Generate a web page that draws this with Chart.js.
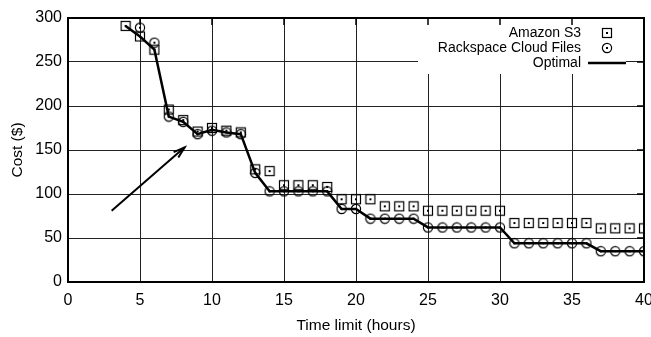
<!DOCTYPE html>
<html>
<head>
<meta charset="utf-8">
<script src="https://cdn.jsdelivr.net/npm/chart.js@4/dist/chart.umd.min.js"></script>
<style>
html,body{margin:0;padding:0;background:#fff;}
#wrap{width:651px;height:337px;position:relative;}
</style>
</head>
<body>
<div id="wrap"><canvas id="c" width="651" height="337"></canvas></div>
<script>
// ---- data ----
const amazonHours = [4,5,6,7,8,9,10,11,12,13,14,15,16,17,18,19,20,21,22,23,24,25,26,27,28,29,30,31,32,33,34,35,36,37,38,39,40];
const amazonCost  = [291,279,264,196,184,171,175,172,170,128,126,110,110,110,108,94,94,94,86,86,86,81,81,81,81,81,81,67,67,67,67,67,67,61,61,61,61];
const rackHours   = [5,6,7,8,9,10,11,12,13,14,15,16,17,18,19,20,21,22,23,24,25,26,27,28,29,30,31,32,33,34,35,36,37,38,39,40];
const rackCost    = [289,272,188,182,168,172,170,168,124,103,103,103,103,103,83,83,72,72,72,72,62,62,62,62,62,62,44,44,44,44,44,44,35,35,35,35];
const optHours    = [4,5,6,7,8,9,10,11,12,13,14,15,16,17,18,19,20,21,22,23,24,25,26,27,28,29,30,31,32,33,34,35,36,37,38,39,40];
const optCost     = [291,279,264,188,182,168,173,170,168,124,103,103,103,103,103,83,83,72,72,72,72,62,62,62,62,62,62,44,44,44,44,44,44,35,35,35,35];
const xTicks = [0,5,10,15,20,25,30,35,40];
const yTicks = [0,50,100,150,200,250,300];
const seriesLabels = ['Amazon S3','Rackspace Cloud Files','Optimal'];
const arrowFrom = {x:3.03, y:81};
const arrowTo   = {x:8.1, y:153};

// ---- marker images ----
function squareMarker(){
  const c=document.createElement('canvas');c.width=12;c.height=12;
  const g=c.getContext('2d');g.strokeStyle='#000';g.lineWidth=1.2;
  g.strokeRect(1.5,1.5,9,9);g.fillStyle='#000';g.fillRect(5,5,2,2);
  return c;
}
function circleMarker(){
  const c=document.createElement('canvas');c.width=12;c.height=12;
  const g=c.getContext('2d');g.strokeStyle='#000';g.lineWidth=1.2;
  g.beginPath();g.arc(6,6,4.6,0,Math.PI*2);g.stroke();
  g.fillStyle='#000';g.fillRect(5,5,2,2);
  return c;
}
const sqImg=squareMarker(), ciImg=circleMarker();

const toPts=(xs,ys)=>xs.map((x,i)=>({x:x,y:ys[i]}));

const FONT='"Liberation Sans", Arial, sans-serif';

const decor={
  id:'decor',
  afterDatasetsDraw(chart){
    const {ctx,chartArea:a,scales:{x,y}}=chart;
    ctx.save();
    // legend box
    ctx.fillStyle='#fff';
    ctx.fillRect(418,19,208,55);
    ctx.fillStyle='#000';
    ctx.font='14px '+FONT;
    ctx.textAlign='right';ctx.textBaseline='middle';
    const rows=[33,48,63];
    ctx.fillText(seriesLabels[0],581,rows[0]);
    ctx.fillText(seriesLabels[1],581,rows[1]);
    ctx.fillText(seriesLabels[2],581,rows[2]);
    ctx.drawImage(sqImg,601,rows[0]-6);
    ctx.drawImage(ciImg,601,rows[1]-6);
    ctx.strokeStyle='#000';ctx.lineWidth=2.5;
    ctx.beginPath();ctx.moveTo(588,rows[2]);ctx.lineTo(626,rows[2]);ctx.stroke();
    // arrow
    const x1=x.getPixelForValue(arrowFrom.x),y1=y.getPixelForValue(arrowFrom.y);
    const x2=x.getPixelForValue(arrowTo.x),y2=y.getPixelForValue(arrowTo.y);
    ctx.lineWidth=2;
    ctx.beginPath();ctx.moveTo(x1,y1);ctx.lineTo(x2,y2);ctx.stroke();
    const ang=Math.atan2(y2-y1,x2-x1),L=12,sp=0.3;
    ctx.beginPath();
    ctx.moveTo(x2-L*Math.cos(ang-sp),y2-L*Math.sin(ang-sp));
    ctx.lineTo(x2,y2);
    ctx.lineTo(x2-L*Math.cos(ang+sp),y2-L*Math.sin(ang+sp));
    ctx.stroke();
    // inward ticks on top and right
    ctx.lineWidth=1.5;
    xTicks.forEach(t=>{const px=x.getPixelForValue(t);ctx.beginPath();ctx.moveTo(px,a.top);ctx.lineTo(px,a.top+7);ctx.stroke();});
    yTicks.forEach(t=>{const py=y.getPixelForValue(t);ctx.beginPath();ctx.moveTo(a.right,py);ctx.lineTo(a.right-7,py);ctx.stroke();});
    // border
    ctx.lineWidth=2;
    ctx.strokeRect(a.left,a.top,a.right-a.left,a.bottom-a.top);
    ctx.restore();
  }
};

new Chart(document.getElementById('c'),{
  type:'scatter',
  data:{datasets:[
    {label:seriesLabels[2],data:toPts(optHours,optCost),showLine:true,borderColor:'#000',borderWidth:2.5,pointRadius:0,pointHoverRadius:0,order:3},
    {label:seriesLabels[0],data:toPts(amazonHours,amazonCost),pointStyle:sqImg,pointRadius:5,showLine:false,order:2},
    {label:seriesLabels[1],data:toPts(rackHours,rackCost),pointStyle:ciImg,pointRadius:5,showLine:false,order:1}
  ]},
  options:{
    responsive:false,animation:false,devicePixelRatio:1,
    layout:{padding:{top:18,right:7,left:0,bottom:0}},
    plugins:{legend:{display:false},tooltip:{enabled:false}},
    scales:{
      x:{type:'linear',min:0,max:40,
        afterBuildTicks:s=>{s.ticks=xTicks.map(v=>({value:v}));},
        afterFit:s=>{s.height=55;s.paddingLeft=0;s.paddingRight=0;},
        grid:{color:'#222',lineWidth:1,drawTicks:false},
        border:{display:false},
        ticks:{color:'#000',font:{size:16,family:FONT},padding:9,maxRotation:0},
        title:{display:true,text:'Time limit (hours)',color:'#000',font:{size:15.5,family:FONT},padding:{top:0,bottom:2}}
      },
      y:{type:'linear',min:0,max:300,
        afterBuildTicks:s=>{s.ticks=yTicks.map(v=>({value:v}));},
        afterFit:s=>{s.width=68;s.paddingTop=0;s.paddingBottom=0;},
        grid:{color:'#222',lineWidth:1,drawTicks:false},
        border:{display:false},
        ticks:{color:'#000',font:{size:16,family:FONT},padding:6},
        title:{display:true,text:'Cost ($)',color:'#000',font:{size:15.5,family:FONT},padding:{top:8,bottom:0}}
      }
    }
  },
  plugins:[decor]
});
</script>
</body>
</html>
